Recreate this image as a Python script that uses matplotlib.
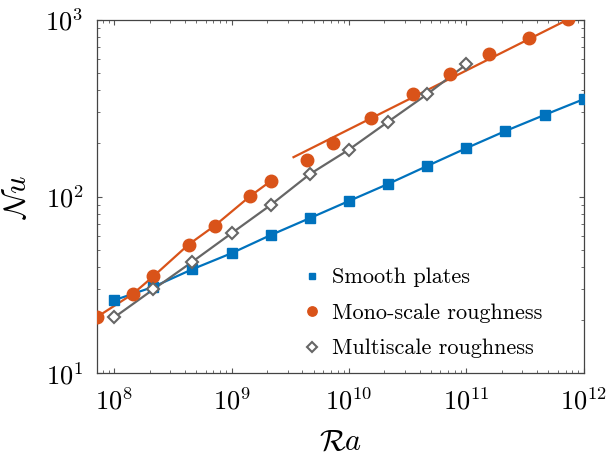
import matplotlib
matplotlib.use("Agg")
import matplotlib.pyplot as plt
import numpy as np

plt.rcParams["font.family"] = "serif"
plt.rcParams["font.serif"] = ["cmr10", "DejaVu Serif"]
plt.rcParams["mathtext.fontset"] = "cm"
plt.rcParams["axes.formatter.use_mathtext"] = True

BLUE = "#0072BD"
ORANGE = "#D95319"
GREY = "#666666"

# smooth plates
ra_smooth = [1e8, 2.15e8, 4.64e8, 1e9, 2.15e9, 4.64e9, 1e10, 2.15e10,
             4.64e10, 1e11, 2.15e11, 4.64e11, 1e12]
nu_smooth = [25.9, 30.8, 38.8, 47.8, 60.5, 75.5, 94.4, 117.8, 149, 188,
             235, 290, 356]

# mono-scale roughness
ra_mono = [7.2e7, 1.44e8, 2.16e8, 4.3e8, 7.2e8, 1.44e9, 2.16e9, 4.4e9,
           7.3e9, 1.54e10, 3.5e10, 7.3e10, 1.57e11, 3.43e11, 7.4e11]
nu_mono = [20.9, 28.1, 35.4, 53.5, 68.5, 100.6, 122.5, 161, 201, 279,
           379, 494, 640, 794, 1009]
n_mono_low = 7  # first regime, joined by line

# fit line for upper mono-scale regime: Nu = C * Ra^beta
fit_beta = 1.0 / 3.0
fit_C = 0.1115
fit_ra_range = [3.37e9, 7.4e11]

# multiscale roughness
ra_multi = [1e8, 2.15e8, 4.64e8, 1e9, 2.15e9, 4.64e9, 1e10, 2.15e10,
            4.64e10, 1e11]
nu_multi = [20.7, 29.8, 42.8, 62, 89.5, 134, 184.5, 265, 380, 561]

fig, ax = plt.subplots(figsize=(6.08, 4.54), dpi=100)
fig.subplots_adjust(left=0.16, right=0.96, bottom=0.178, top=0.956)

ax.plot(ra_smooth, nu_smooth, color=BLUE, lw=1.6, zorder=2)
ax.plot(ra_mono[:n_mono_low], nu_mono[:n_mono_low], color=ORANGE, lw=1.6, zorder=2)
fr = np.array(fit_ra_range)
ax.plot(fr, fit_C * fr ** fit_beta, color=ORANGE, lw=1.6, zorder=2)
ax.plot(ra_multi, nu_multi, color=GREY, lw=1.6, zorder=2)

ax.plot(ra_smooth, nu_smooth, "s", color=BLUE, ms=6.5, ls="none",
        label="Smooth plates", zorder=3)
ax.plot(ra_mono, nu_mono, "o", color=ORANGE, ms=9, ls="none",
        label="Mono-scale roughness", zorder=3)
ax.plot(ra_multi, nu_multi, "D", mfc="white", mec=GREY, mew=1.5, ms=6.5,
        ls="none", label="Multiscale roughness", zorder=4)

ax.set_xscale("log")
ax.set_yscale("log")
ax.set_xlim(7.17e7, 1e12)
ax.set_ylim(10, 1000)
ax.set_xlabel(r"$\mathcal{R}a$", fontsize=22, labelpad=10)
ax.set_ylabel(r"$\mathcal{N}u$", fontsize=22, labelpad=10)
ax.tick_params(which="both", direction="in", top=True, right=True,
               labelsize=19, color="#555555")
ax.tick_params(which="major", length=3.5, pad=10)
ax.tick_params(which="minor", length=2)
for s in ax.spines.values():
    s.set_color("#444444")
    s.set_linewidth(0.9)

leg = ax.legend(loc="center left", bbox_to_anchor=(0.395, 0.17), frameon=False,
                fontsize=16, markerscale=0.75, handletextpad=0.3,
                labelspacing=0.72, handlelength=1.2, borderaxespad=0.0)

fig.savefig("out.png", dpi=100)
